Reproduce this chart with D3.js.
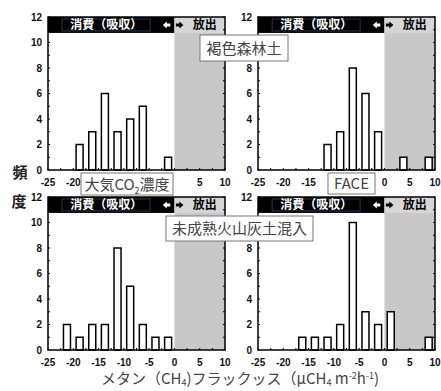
<!DOCTYPE html>
<html>
<head>
<meta charset="utf-8">
<script src="https://cdn.jsdelivr.net/npm/d3@7"></script>
<style>
  body { margin: 0; background: #fff; }
  svg { display: block; }
  .tick-label { font-family: "Liberation Sans Narrow", "Liberation Sans", Arial, sans-serif; font-weight: bold; font-size: 10px; fill: #111; }
  .jp { font-family: "Noto Sans CJK JP", sans-serif; }
</style>
</head>
<body>
<div id="chart"></div>
<script>
// bin centres (bin width 2.5)
var binCenters = [-21.25, -18.75, -16.25, -13.75, -11.25, -8.75, -6.25, -3.75, -1.25, 1.25, 3.75, 6.25, 8.75];
var brownForestAmbient = [0, 2, 3, 6, 3, 4, 5, 0, 1, 0, 0, 0, 0];
var brownForestFace    = [0, 0, 0, 0, 2, 3, 8, 6, 3, 0, 1, 0, 1];
var volcanicAmbient    = [2, 1, 2, 2, 8, 5, 2, 1, 1, 0, 0, 0, 0];
var volcanicFace       = [0, 0, 1, 1, 1, 2, 10, 3, 2, 3, 0, 0, 1];
var xTicks = [-25, -20, -15, -10, -5, 0, 5, 10];
var yTicks = [0, 2, 4, 6, 8, 10, 12];

var width = 441, height = 391;
var svg = d3.select('#chart').append('svg')
  .attr('width', width)
  .attr('height', height);

// label boxes (pixel rects) - tick labels underneath them are hidden
var boxes = [
  {x: 200, y: 35, w: 88, h: 26, parts: [{t: '褐色森林土'}]},
  {x: 81, y: 173, w: 92, h: 22, parts: [{t: '大気CO'}, {t: '2', sub: true}, {t: '濃度', after: true}]},
  {x: 328, y: 173, w: 47, h: 21, parts: [{t: 'FACE'}]},
  {x: 166, y: 216, w: 147, h: 25, parts: [{t: '未成熟火山灰土混入'}]}
];
function covered(px, py, pad){
  return boxes.some(function(b){
    return px > b.x - pad && px < b.x + b.w + pad && py > b.y && py < b.y + b.h;
  });
}

var panels = [
  {data: brownForestAmbient, x0: 48, x1: 225, y0: 170, y1: 17},
  {data: brownForestFace,    x0: 258, x1: 435, y0: 170, y1: 17},
  {data: volcanicAmbient,    x0: 48, x1: 225, y0: 350, y1: 197},
  {data: volcanicFace,       x0: 258, x1: 435, y0: 350, y1: 197}
];

panels.forEach(function(p){
  var x = d3.scaleLinear().domain([-25, 10]).range([p.x0, p.x1]);
  var y = d3.scaleLinear().domain([0, 12]).range([p.y0, p.y1]);
  var g = svg.append('g');

  // emission side shade
  g.append('rect')
    .attr('x', x(0)).attr('y', y(12))
    .attr('width', x(10) - x(0)).attr('height', y(0) - y(12))
    .attr('fill', '#c8c8c8');

  // bars
  var bins = binCenters.map(function(c, i){ return {c: c, v: p.data[i]}; })
    .filter(function(d){ return d.v > 0; });
  g.selectAll('.bar').data(bins).enter().append('rect')
    .attr('class', 'bar')
    .attr('x', function(d){ return x(d.c) - 3.5; })
    .attr('y', function(d){ return y(d.v); })
    .attr('width', 7)
    .attr('height', function(d){ return y(0) - y(d.v); })
    .attr('fill', '#fff')
    .attr('stroke', '#000')
    .attr('stroke-width', 1.5);

  // header band
  var hTop = y(12), hBot = y(10.75);
  g.append('rect')
    .attr('x', x(-25)).attr('y', hTop)
    .attr('width', x(0) - x(-25)).attr('height', hBot - hTop)
    .attr('fill', '#000');
  g.append('rect')
    .attr('x', x(0)).attr('y', hTop)
    .attr('width', x(10) - x(0)).attr('height', hBot - hTop)
    .attr('fill', '#d6d6d6');
  g.append('rect')
    .attr('x', x(-22.2)).attr('y', hTop + 2)
    .attr('width', x(-4.8) - x(-22.2)).attr('height', hBot - hTop - 4)
    .attr('fill', 'none')
    .attr('stroke', '#2a3550')
    .attr('stroke-width', 1);
  g.append('text')
    .attr('class', 'jp')
    .attr('x', x(-13.5)).attr('y', hBot - 3.5)
    .attr('text-anchor', 'middle')
    .attr('font-size', 12).attr('font-weight', 'bold')
    .attr('fill', '#fff')
    .text('消費（吸収）');
  var hm = (hTop + hBot) / 2;
  // arrows
  g.append('path')
    .attr('d', 'M' + x(-2.3) + ',' + hm + 'l4,-3.5v2h3.5v3h-3.5v2z')
    .attr('fill', '#fff');
  g.append('path')
    .attr('d', 'M' + (x(0) + 9) + ',' + hm + 'l-4,-3.5v2h-3.5v3h3.5v2z')
    .attr('fill', '#000');
  g.append('text')
    .attr('class', 'jp')
    .attr('x', x(6)).attr('y', hBot - 3.5)
    .attr('text-anchor', 'middle')
    .attr('font-size', 12).attr('font-weight', 'bold')
    .attr('fill', '#000')
    .text('放出');

  // ticks
  var yMinor = d3.range(0, 13, 1);
  g.selectAll('.ytl').data(yMinor).enter().append('line')
    .attr('x1', x(-25)).attr('x2', x(-25) + 2)
    .attr('y1', function(d){ return y(d); }).attr('y2', function(d){ return y(d); })
    .attr('stroke', '#000');
  g.selectAll('.ytr').data(yMinor).enter().append('line')
    .attr('x1', x(10)).attr('x2', x(10) - 2)
    .attr('y1', function(d){ return y(d); }).attr('y2', function(d){ return y(d); })
    .attr('stroke', '#000');
  var xMinor = d3.range(-25, 10.1, 2.5);
  g.selectAll('.xt').data(xMinor).enter().append('line')
    .attr('x1', function(d){ return x(d); }).attr('x2', function(d){ return x(d); })
    .attr('y1', y(0)).attr('y2', y(0) - 2)
    .attr('stroke', '#000');

  // frame
  g.append('rect')
    .attr('x', x(-25)).attr('y', y(12))
    .attr('width', x(10) - x(-25)).attr('height', y(0) - y(12))
    .attr('fill', 'none')
    .attr('stroke', '#000')
    .attr('stroke-width', 1.5);

  // tick labels
  var ylX = x(-25) - 6;
  g.selectAll('.yl').data(yTicks.filter(function(d){ return !covered(ylX - 5, y(d), 8); }))
    .enter().append('text')
    .attr('class', 'tick-label')
    .attr('x', ylX)
    .attr('y', function(d){ return y(d) + 3.5; })
    .attr('text-anchor', 'end')
    .text(function(d){ return d; });
  var xlY = y(0) + 16;
  g.selectAll('.xl').data(xTicks.filter(function(d){ return !covered(x(d), xlY - 4, 4); }))
    .enter().append('text')
    .attr('class', 'tick-label')
    .attr('x', function(d){ return x(d); })
    .attr('y', xlY)
    .attr('text-anchor', 'middle')
    .text(function(d){ return d; });
});

// label boxes
boxes.forEach(function(b){
  svg.append('rect')
    .attr('x', b.x).attr('y', b.y).attr('width', b.w).attr('height', b.h)
    .attr('fill', '#fff').attr('stroke', '#777').attr('stroke-width', 1);
  var t = svg.append('text')
    .attr('class', 'jp')
    .attr('x', b.x + b.w / 2).attr('y', b.y + b.h / 2 + 5.5)
    .attr('text-anchor', 'middle')
    .attr('font-size', 15).attr('fill', '#444');
  b.parts.forEach(function(p){
    var s = t.append('tspan').text(p.t);
    if (p.sub) s.attr('font-size', 9).attr('dy', 4);
    if (p.after) s.attr('dy', -4);
  });
});

// y axis title
svg.append('text').attr('class', 'jp')
  .attr('x', 20).attr('y', 178)
  .attr('text-anchor', 'middle')
  .attr('font-size', 15).attr('font-weight', 'bold').attr('fill', '#222')
  .text('頻');
svg.append('text').attr('class', 'jp')
  .attr('x', 19).attr('y', 207)
  .attr('text-anchor', 'middle')
  .attr('font-size', 15).attr('font-weight', 'bold').attr('fill', '#222')
  .text('度');

// x axis title
var xt = svg.append('text').attr('class', 'jp')
  .attr('x', 240).attr('y', 384)
  .attr('text-anchor', 'middle')
  .attr('font-size', 15).attr('fill', '#444');
xt.append('tspan').text('メタン（CH');
xt.append('tspan').text('4').attr('font-size', 9).attr('dy', 2);
xt.append('tspan').text(')フラックッス（μCH').attr('dy', -2);
xt.append('tspan').text('4').attr('font-size', 9).attr('dy', 2);
xt.append('tspan').text(' m').attr('dy', -2);
xt.append('tspan').text('-2').attr('font-size', 9).attr('dy', -5);
xt.append('tspan').text('h').attr('dy', 5);
xt.append('tspan').text('-1').attr('font-size', 9).attr('dy', -5);
xt.append('tspan').text(')').attr('dy', 5);
</script>
</body>
</html>
